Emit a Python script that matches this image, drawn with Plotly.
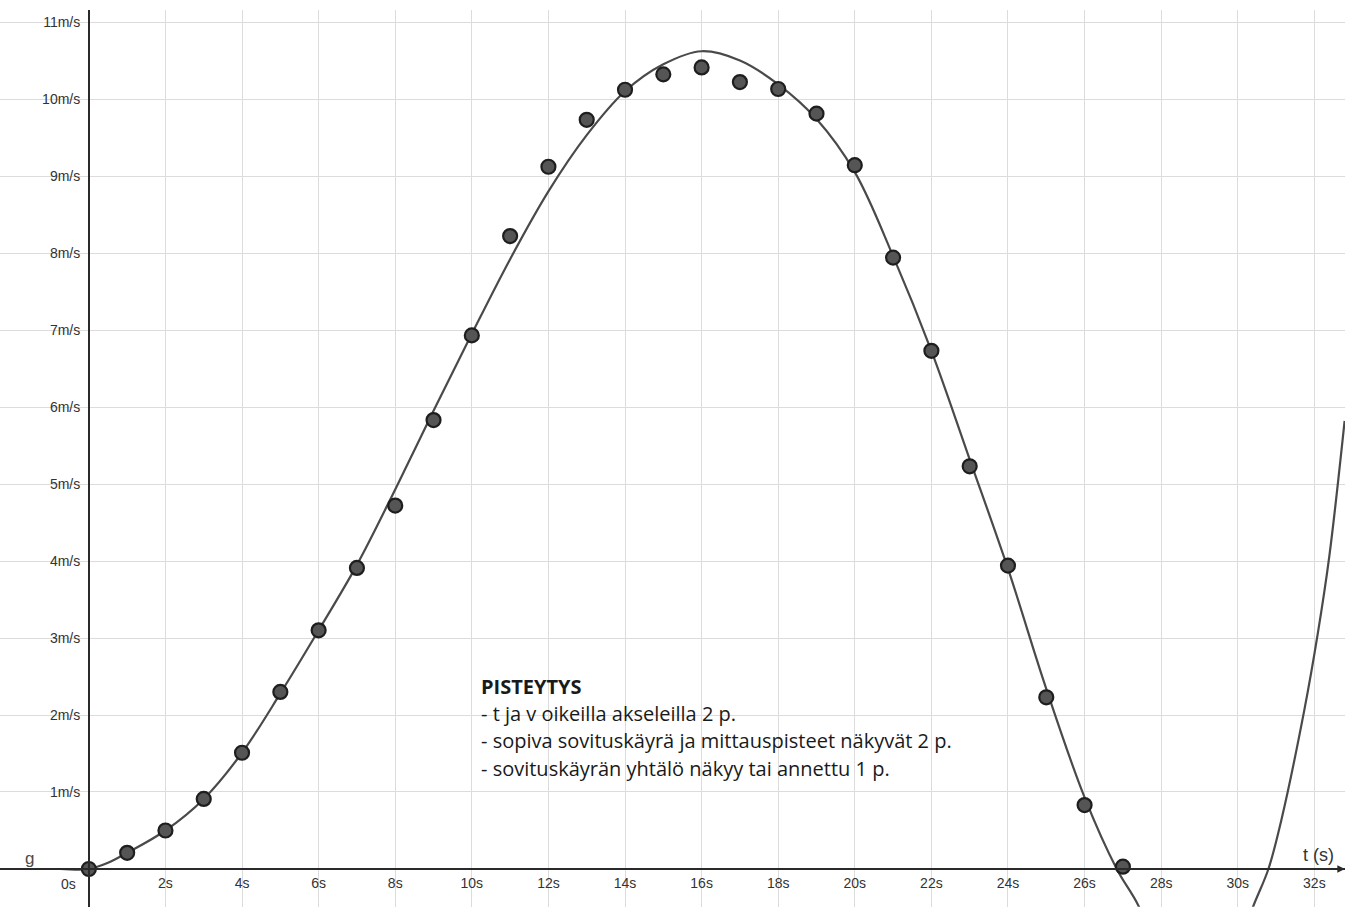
import plotly.graph_objects as go

t_meas = [0, 1, 2, 3, 4, 5, 6, 7, 8, 9, 10, 11, 12, 13, 14, 15, 16, 17, 18, 19,
          20, 21, 22, 23, 24, 25, 26, 27]
v_meas = [0.00, 0.21, 0.50, 0.91, 1.51, 2.30, 3.10, 3.91, 4.72, 5.83, 6.93, 8.22,
          9.12, 9.73, 10.12, 10.32, 10.41, 10.22, 10.13, 9.81, 9.14, 7.94, 6.73,
          5.23, 3.94, 2.23, 0.83, 0.03]

# fitted curve g
t_curve = [-1.45, -0.75, 0, 0.5, 1, 2, 3, 4, 5, 6, 7, 8, 9, 10, 11, 12, 13, 14, 15,
           16, 17, 18, 19, 20, 21, 22, 23, 24, 25, 26, 26.84, 27.4, 28, 29,
           30, 30.4, 30.8, 31.14, 31.74, 32.09, 32.39, 32.79]
v_curve = [0.0, 0.0, 0.0, 0.08, 0.21, 0.50, 0.91, 1.51, 2.28, 3.10, 3.95, 4.93,
           5.95, 6.95, 7.92, 8.80, 9.53, 10.10, 10.45, 10.62, 10.50, 10.19,
           9.74, 9.05, 7.96, 6.73, 5.32, 3.90, 2.34, 0.93, 0.0, -0.47, -1.2, -1.55,
           -1.05, -0.49, 0.0, 0.64, 2.07, 3.06, 4.06, 5.82]

x_ticks = [2, 4, 6, 8, 10, 12, 14, 16, 18, 20, 22, 24, 26, 28, 30, 32]
x_ticktext = [f"{v}s" for v in x_ticks]
y_ticks = [1, 2, 3, 4, 5, 6, 7, 8, 9, 10, 11]
y_ticktext = [f"{v}m/s" for v in y_ticks]

score_title = "PISTEYTYS"
score_lines = [
    "- t ja v oikeilla akseleilla 2 p.",
    "- sopiva sovituskäyrä ja mittauspisteet näkyvät 2 p.",
    "- sovituskäyrän yhtälö näkyy tai annettu 1 p.",
]

W, H = 1359, 909
X_RANGE = [-2.32, 32.8]
Y_RANGE = [-0.49, 11.15]
X_DOMAIN = [0, 1345 / W]
Y_DOMAIN = [0.0025, 0.9885]

fig = go.Figure()
fig.add_trace(go.Scatter(x=t_curve, y=v_curve, mode="lines",
                         line=dict(color="#4a4a4a", width=2.2, shape="spline",
                                   smoothing=1.0),
                         hoverinfo="skip", showlegend=False, cliponaxis=True))
fig.add_trace(go.Scatter(x=t_meas, y=v_meas, mode="markers",
                         marker=dict(size=14, color="#555555",
                                     line=dict(color="#1e1e1e", width=2.2)),
                         showlegend=False))

x_pos = Y_DOMAIN[0] + (Y_DOMAIN[1] - Y_DOMAIN[0]) * (0 - Y_RANGE[0]) / (Y_RANGE[1] - Y_RANGE[0])
y_pos = X_DOMAIN[0] + (X_DOMAIN[1] - X_DOMAIN[0]) * (0 - X_RANGE[0]) / (X_RANGE[1] - X_RANGE[0])

tick_font = dict(family="Liberation Sans, Arial, sans-serif", size=14, color="#333333")
axis_color = "#2a2a2a"
grid_color = "#dcdcdc"

fig.update_layout(
    width=W, height=H,
    margin=dict(l=0, r=0, t=0, b=0),
    paper_bgcolor="white", plot_bgcolor="white",
    xaxis=dict(range=X_RANGE, domain=X_DOMAIN, anchor="free", position=x_pos,
               tickvals=x_ticks, ticktext=x_ticktext, tickfont=tick_font,
               ticklabelstandoff=1, ticks="",
               showgrid=True, gridcolor=grid_color, gridwidth=1,
               zeroline=False, showline=True, linecolor=axis_color, linewidth=1.6),
    yaxis=dict(range=Y_RANGE, domain=Y_DOMAIN, anchor="free", position=y_pos,
               tickvals=y_ticks, ticktext=y_ticktext, tickfont=tick_font,
               ticklabelstandoff=5, ticks="",
               showgrid=True, gridcolor=grid_color, gridwidth=1,
               zeroline=False, showline=True, linecolor=axis_color, linewidth=1.6),
    font=dict(family="Open Sans, sans-serif"),
)

# axis arrow
fig.add_annotation(x=X_RANGE[1], y=0, xref="x", yref="y", ax=-14, ay=0,
                   text="", showarrow=True, arrowhead=2, arrowsize=1.1,
                   arrowwidth=1.4, arrowcolor=axis_color)
# axis labels
fig.add_annotation(x=0, y=0, xref="x", yref="y", text="0s", showarrow=False,
                   xshift=-20, yshift=-15, font=tick_font)
fig.add_annotation(x=32.1, y=0, xref="x", yref="y", text="t (s)", showarrow=False,
                   yshift=14, font=dict(family="Liberation Sans, Arial, sans-serif",
                                        size=18, color="#333333"))
fig.add_annotation(x=-1.55, y=0.14, xref="x", yref="y", text="g", showarrow=False,
                   font=dict(family="Liberation Sans, Arial, sans-serif",
                             size=17, color="#4a4a4a"))

# scoring text block
text_font = dict(family="Open Sans, sans-serif", size=20, color="#1a1a1a")
text_x = 482 / W
text_rows_px = [686, 713, 740, 768]
fig.add_annotation(x=text_x, y=1 - text_rows_px[0] / H, xref="paper", yref="paper",
                   text=f"<b>{score_title}</b>", showarrow=False,
                   xanchor="left", yanchor="middle", font=text_font,
                   borderpad=0, xshift=-2)
for row_px, line in zip(text_rows_px[1:], score_lines):
    fig.add_annotation(x=text_x, y=1 - row_px / H, xref="paper", yref="paper",
                       text=line, showarrow=False, xanchor="left", yanchor="middle",
                       font=text_font, borderpad=0, xshift=-2)

fig.write_html("out.html", config={"displayModeBar": False},
               post_script="document.body.style.margin='0';document.body.style.overflow='hidden';")
